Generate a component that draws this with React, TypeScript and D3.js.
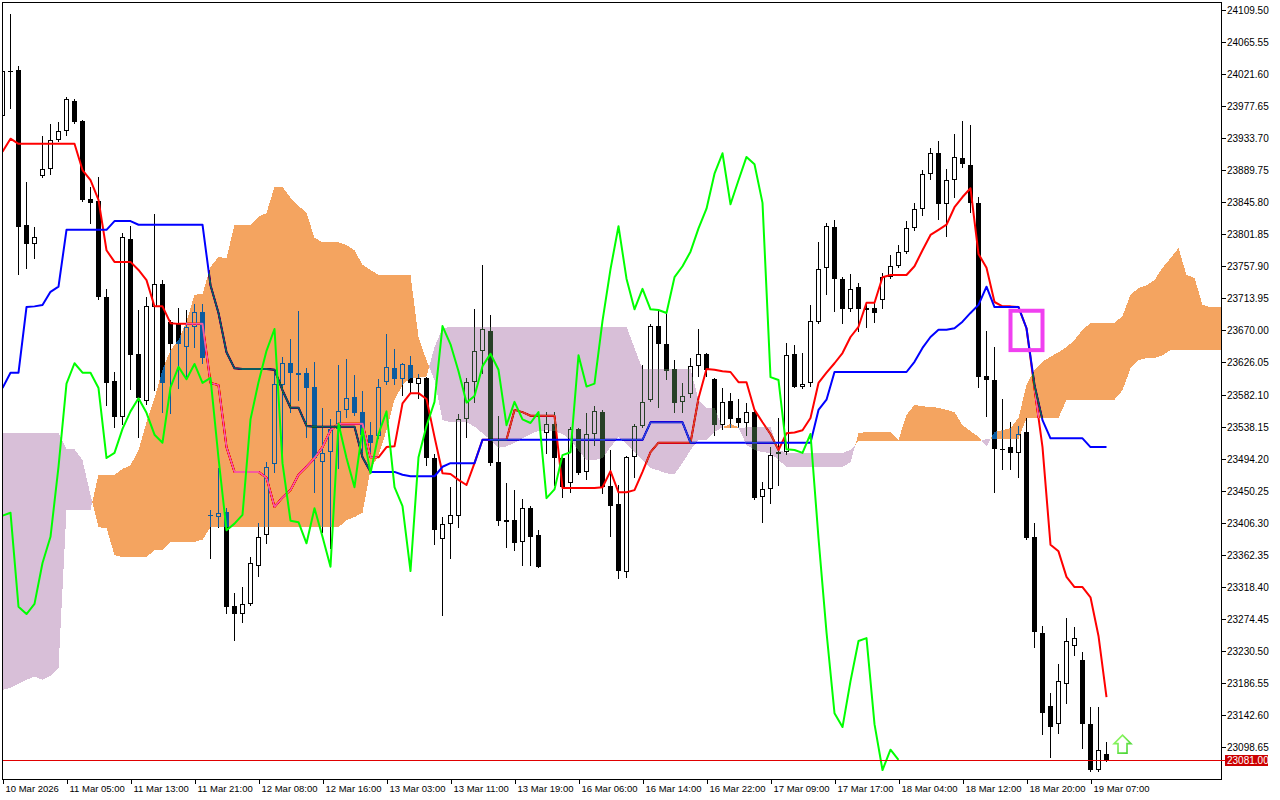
import React from "react";
import * as d3 from "d3";

// ---- Candle data (H1 bars, left to right) ----
const open = [
  23964, 24026, 24027, 23815, 23789, 23882, 23891, 23931, 23944, 23985,
  23957, 23850, 23848, 23716, 23601, 23551, 23795, 23638, 23573, 23702,
  23734, 23682, 23680, 23647, 23675, 23695, 23417, 23414, 23421, 23292,
  23281, 23295, 23347, 23389, 23487, 23595, 23625, 23609, 23612, 23592,
  23490, 23503, 23535, 23561, 23579, 23558, 23527, 23525, 23599, 23618,
  23603, 23622, 23597, 23605, 23495, 23384, 23405, 23415, 23548, 23599,
  23642, 23669, 23490, 23410, 23410, 23380, 23426, 23389, 23529, 23542,
  23495, 23461, 23535, 23476, 23528, 23558, 23457, 23432, 23339, 23496,
  23539, 23575, 23676, 23651, 23617, 23572, 23583, 23621, 23638, 23603,
  23540, 23573, 23550, 23543, 23558, 23441, 23452, 23501, 23503, 23638,
  23592, 23598, 23682, 23756, 23812, 23741, 23699, 23730, 23701, 23701,
  23712, 23743, 23758, 23778, 23810, 23837, 23885, 23913, 23843, 23876,
  23906, 23897, 23845, 23607, 23602, 23507, 23510, 23502, 23531, 23387,
  23255, 23155, 23130, 23185, 23237, 23218, 23130, 23067, 23089,
];
const high = [
  24030, 24104, 24033, 23874, 23812, 23937, 23953, 23956, 23990, 23987,
  23959, 23867, 23880, 23727, 23613, 23804, 23813, 23698, 23716, 23830,
  23739, 23684, 23701, 23698, 23706, 23706, 23424, 23481, 23426, 23310,
  23318, 23359, 23406, 23490, 23612, 23634, 23658, 23697, 23618, 23627,
  23564, 23548, 23622, 23631, 23609, 23587, 23544, 23603, 23665, 23645,
  23625, 23635, 23610, 23606, 23501, 23414, 23455, 23555, 23605, 23699,
  23760, 23691, 23553, 23461, 23451, 23439, 23429, 23396, 23558, 23558,
  23496, 23538, 23536, 23557, 23566, 23561, 23506, 23458, 23498, 23542,
  23622, 23679, 23698, 23694, 23629, 23598, 23632, 23672, 23639, 23605,
  23591, 23584, 23576, 23570, 23564, 23462, 23510, 23550, 23653, 23650,
  23639, 23705, 23791, 23817, 23821, 23743, 23747, 23735, 23709, 23708,
  23749, 23773, 23787, 23820, 23845, 23890, 23920, 23930, 23891, 23939,
  23957, 23952, 23853, 23669, 23647, 23576, 23544, 23539, 23550, 23406,
  23265, 23173, 23212, 23276, 23263, 23229, 23154, 23154, 23105,
];
const low = [
  23959, 23975, 23747, 23756, 23769, 23880, 23885, 23930, 23938, 23954,
  23847, 23817, 23713, 23568, 23538, 23542, 23590, 23524, 23569, 23588,
  23558, 23557, 23591, 23605, 23647, 23625, 23358, 23400, 23282, 23245,
  23270, 23293, 23333, 23378, 23476, 23498, 23558, 23575, 23524, 23448,
  23394, 23372, 23481, 23551, 23554, 23503, 23503, 23523, 23597, 23597,
  23581, 23584, 23577, 23485, 23377, 23280, 23358, 23400, 23524, 23572,
  23612, 23485, 23403, 23373, 23369, 23348, 23348, 23345, 23502, 23458,
  23441, 23448, 23473, 23466, 23513, 23447, 23388, 23330, 23332, 23469,
  23538, 23573, 23565, 23603, 23558, 23558, 23579, 23607, 23607, 23527,
  23535, 23538, 23538, 23527, 23439, 23407, 23433, 23458, 23501, 23592,
  23591, 23594, 23680, 23720, 23697, 23680, 23697, 23669, 23675, 23682,
  23701, 23742, 23757, 23776, 23808, 23828, 23878, 23823, 23800, 23853,
  23894, 23832, 23592, 23553, 23448, 23480, 23480, 23469, 23384, 23236,
  23116, 23085, 23118, 23159, 23225, 23097, 23066, 23066, 23079,
];
const close = [
  24026, 24025, 23812, 23789, 23798, 23891, 23931, 23944, 23987, 23956,
  23849, 23845, 23716, 23598, 23551, 23798, 23636, 23577, 23703, 23734,
  23598, 23651, 23651, 23675, 23695, 23632, 23416, 23420, 23291, 23281,
  23295, 23351, 23387, 23483, 23597, 23625, 23612, 23612, 23591, 23495,
  23502, 23535, 23559, 23577, 23557, 23527, 23516, 23592, 23620, 23603,
  23624, 23598, 23605, 23495, 23396, 23405, 23417, 23548, 23599, 23642,
  23672, 23488, 23409, 23407, 23378, 23426, 23387, 23346, 23542, 23495,
  23455, 23535, 23474, 23528, 23559, 23455, 23429, 23340, 23496, 23539,
  23572, 23676, 23651, 23614, 23571, 23580, 23621, 23638, 23616, 23540,
  23572, 23548, 23543, 23558, 23440, 23452, 23499, 23503, 23636, 23593,
  23597, 23683, 23754, 23813, 23741, 23699, 23727, 23699, 23698, 23694,
  23743, 23758, 23778, 23810, 23837, 23885, 23913, 23843, 23876, 23908,
  23898, 23845, 23606, 23602, 23507, 23506, 23502, 23528, 23385, 23256,
  23145, 23126, 23189, 23244, 23248, 23130, 23067, 23095, 23081,
];

// ---- Ichimoku lines ----
const tenkan = [
  23915, 23933, 23926, 23926, 23926, 23926, 23926, 23926, 23926, 23926,
  23890, 23876, 23849, 23780, 23764, 23764, 23764, 23753, 23739, 23703,
  23703, 23680, 23679, 23679, 23679, 23679, 23598, 23595, 23510, 23476,
  23476, 23476, 23476, 23468, 23428, 23441, 23451, 23472, 23483, 23495,
  23510, 23533, 23542, 23542, 23542, 23542, 23496, 23496, 23510, 23511,
  23570, 23584, 23584, 23576, 23524, 23474, 23473, 23465, 23458, 23488,
  23520, 23520, 23520, 23520, 23561, 23558, 23553, 23553, 23553, 23553,
  23454, 23454, 23454, 23454, 23454, 23455, 23477, 23448, 23448, 23451,
  23476, 23503, 23516, 23516, 23516, 23516, 23516, 23577, 23617, 23616,
  23614, 23613, 23599, 23599, 23561, 23544, 23528, 23506, 23529, 23530,
  23533, 23550, 23598, 23612, 23625, 23639, 23661, 23675, 23708, 23708,
  23743, 23746, 23746, 23746, 23758, 23780, 23801, 23808, 23815, 23839,
  23853, 23865, 23775, 23756, 23709, 23703, 23703, 23702, 23673, 23591,
  23510, 23376, 23367, 23332, 23318, 23318, 23304, 23251, 23167,
];
const kijun = [
  23591, 23612, 23612, 23702, 23703, 23705, 23723, 23730, 23808, 23808,
  23808, 23808, 23808, 23808, 23820, 23820, 23820, 23815, 23815, 23815,
  23815, 23815, 23815, 23815, 23815, 23815, 23732, 23694, 23640, 23618,
  23617, 23617, 23617, 23617, 23616, 23588, 23564, 23564, 23539, 23538,
  23538, 23538, 23538, 23538, 23538, 23496, 23476, 23476, 23476, 23476,
  23472, 23470, 23470, 23470, 23470, 23483, 23488, 23488, 23488, 23488,
  23520, 23520, 23520, 23520, 23520, 23520, 23520, 23520, 23520, 23520,
  23520, 23520, 23520, 23520, 23520, 23520, 23520, 23520, 23520, 23520,
  23520, 23544, 23544, 23544, 23544, 23544, 23516, 23516, 23516, 23516,
  23516, 23516, 23516, 23516, 23516, 23516, 23516, 23516, 23516, 23516,
  23516, 23516, 23561, 23575, 23613, 23613, 23613, 23613, 23613, 23613,
  23613, 23613, 23613, 23613, 23627, 23646, 23661, 23671, 23671, 23673,
  23682, 23694, 23705, 23730, 23702, 23702, 23702, 23702, 23673, 23595,
  23547, 23522, 23522, 23522, 23522, 23522, 23510, 23510, 23510,
];
// Senkou spans, already shifted 26 bars forward (runs past the last candle)
const spanA = [
  23177, 23180, 23185, 23191, 23195, 23191, 23196, 23207, 23424, 23424,
  23424, 23424, 23472, 23472, 23472, 23480, 23485, 23506, 23544, 23577,
  23616, 23643, 23657, 23682, 23719, 23720, 23757, 23771, 23769, 23815,
  23815, 23815, 23826, 23831, 23867, 23867, 23852, 23841, 23831, 23797,
  23791, 23791, 23791, 23787, 23780, 23760, 23753, 23746, 23746, 23746,
  23746, 23746, 23661, 23629, 23602, 23547, 23544, 23544, 23544, 23538,
  23529, 23520, 23509, 23511, 23516, 23522, 23528, 23532, 23533, 23532,
  23528, 23520, 23505, 23492, 23492, 23495, 23510, 23524, 23514, 23503,
  23492, 23481, 23478, 23474, 23473, 23488, 23506, 23520, 23520, 23531,
  23537, 23542, 23537, 23513, 23506, 23503, 23502, 23492, 23483, 23483,
  23483, 23483, 23483, 23483, 23483, 23483, 23489, 23529, 23531, 23531,
  23531, 23531, 23520, 23554, 23568, 23566, 23565, 23564, 23561, 23558,
  23540, 23532, 23524, 23511, 23531, 23533, 23536, 23550, 23595, 23616,
  23627, 23634, 23640, 23647, 23657, 23671, 23680, 23680, 23680, 23680,
  23690, 23719, 23728, 23732, 23739, 23756, 23769, 23783, 23746, 23742,
  23705, 23702, 23702, 23702,
];
const spanB = [
  23529, 23529, 23529, 23529, 23529, 23529, 23529, 23529, 23507, 23507,
  23492, 23444, 23400, 23399, 23362, 23359, 23359, 23359, 23359, 23369,
  23369, 23380, 23380, 23380, 23380, 23383, 23400, 23400, 23400, 23400,
  23400, 23400, 23400, 23400, 23400, 23400, 23400, 23400, 23400, 23400,
  23400, 23400, 23400, 23410, 23414, 23420, 23479, 23499, 23533, 23575,
  23595, 23605, 23605, 23607, 23647, 23673, 23675, 23675, 23675, 23675,
  23675, 23675, 23675, 23675, 23675, 23675, 23675, 23675, 23675, 23675,
  23675, 23675, 23675, 23675, 23675, 23675, 23675, 23675, 23675, 23646,
  23617, 23617, 23617, 23617, 23617, 23617, 23617, 23575, 23564, 23564,
  23537, 23536, 23536, 23537, 23537, 23537, 23537, 23506, 23502, 23502,
  23502, 23502, 23502, 23502, 23502, 23502, 23506, 23518, 23518, 23518,
  23518, 23518, 23518, 23518, 23518, 23518, 23518, 23518, 23518, 23518,
  23518, 23518, 23518, 23521, 23521, 23521, 23521, 23521, 23550, 23550,
  23550, 23550, 23550, 23575, 23575, 23575, 23575, 23575, 23575, 23575,
  23588, 23618, 23629, 23632, 23632, 23636, 23643, 23643, 23643, 23643,
  23643, 23643, 23643, 23643,
];
const chikouShift = 26;

// ---- Axis labels ----
const priceTickLabels = [
  "24109.50", "24065.55", "24021.60", "23977.65", "23933.70", "23889.75",
  "23845.80", "23801.85", "23757.90", "23713.95", "23670.00", "23626.05",
  "23582.10", "23538.15", "23494.20", "23450.25", "23406.30", "23362.35",
  "23318.40", "23274.45", "23230.50", "23186.55", "23142.60", "23098.65",
];
const timeLabels = [
  "10 Mar 2026", "11 Mar 05:00", "11 Mar 13:00", "11 Mar 21:00", "12 Mar 08:00",
  "12 Mar 16:00", "13 Mar 03:00", "13 Mar 11:00", "13 Mar 19:00", "16 Mar 06:00",
  "16 Mar 14:00", "16 Mar 22:00", "17 Mar 09:00", "17 Mar 17:00", "18 Mar 04:00",
  "18 Mar 12:00", "18 Mar 20:00", "19 Mar 07:00",
];
const timeLabelBars = [0, 8, 16, 24, 32, 40, 48, 56, 64, 72, 80, 88, 96, 104, 112, 120, 128, 136];

// ---- Objects on the chart ----
const bidPrice = 23081.0;
const boxBars = [126, 130];
const boxPrices = [23697, 23643];
const arrowBar = 140;
const arrowPrice = 23115;

const FONT = "'Liberation Sans', Arial, sans-serif";

export default function App() {
  const W = 1280;
  const H = 800;
  const left = 2, right = 1221, top = 2, bottom = 779;

  const x = d3.scaleLinear().domain([0, 1]).range([2.5, 10.5]);
  const y = d3.scaleLinear().domain([23054.76, 24120.47]).range([bottom, top]);

  const lineGen = d3
    .line<[number, number]>()
    .x((d) => x(d[0]))
    .y((d) => y(d[1]));

  const tenkanPath = lineGen(tenkan.map((v, i) => [i, v]));
  const kijunPath = lineGen(kijun.map((v, i) => [i, v]));
  const chikouPath = lineGen(
    close.slice(chikouShift).map((v, i) => [i, v] as [number, number])
  );

  // Cloud polygons (orange where span A above span B, thistle otherwise)
  let orange = "";
  let thistle = "";
  const poly = (pts: number[][]) =>
    "M" + pts.map((p) => `${p[0].toFixed(2)},${p[1].toFixed(2)}`).join("L") + "Z";
  for (let i = 0; i < spanA.length - 1; i++) {
    const a0 = spanA[i], b0 = spanB[i], a1 = spanA[i + 1], b1 = spanB[i + 1];
    const d0 = a0 - b0, d1 = a1 - b1;
    const x0 = x(i), x1 = x(i + 1);
    if ((d0 >= 0 && d1 >= 0) || (d0 <= 0 && d1 <= 0)) {
      const p = poly([[x0, y(a0)], [x1, y(a1)], [x1, y(b1)], [x0, y(b0)]]);
      if (d0 + d1 >= 0) orange += p;
      else thistle += p;
    } else {
      const t = d0 / (d0 - d1);
      const xc = x0 + t * (x1 - x0);
      const yc = y(a0 + t * (a1 - a0));
      const p1 = poly([[x0, y(a0)], [xc, yc], [x0, y(b0)]]);
      const p2 = poly([[xc, yc], [x1, y(a1)], [x1, y(b1)]]);
      if (d0 > 0) { orange += p1; thistle += p2; } else { thistle += p1; orange += p2; }
    }
  }

  const candles = open.map((o, i) => {
    const c = close[i];
    const cx = x(i);
    const bx = cx - 2.5;
    const yTop = Math.round(y(Math.max(o, c)));
    const yBot = Math.round(y(Math.min(o, c)));
    const yHi = Math.round(y(high[i]));
    const yLo = Math.round(y(low[i]));
    const bull = c > o;
    const h = Math.max(1, yBot - yTop);
    return (
      <g key={i}>
        <line x1={cx} x2={cx} y1={yHi} y2={yLo + 1} stroke="#000" strokeWidth={1} />
        {c === o ? (
          <line x1={bx} x2={bx + 5} y1={yTop + 0.5} y2={yTop + 0.5} stroke="#000" />
        ) : bull ? (
          <rect x={bx + 0.5} y={yTop + 0.5} width={4} height={Math.max(1, h - 1)} fill="#fff" stroke="#000" strokeWidth={1} />
        ) : (
          <rect x={bx} y={yTop} width={5} height={h} fill="#000" />
        )}
      </g>
    );
  });

  const bidY = Math.round(y(bidPrice)) + 0.5;
  const ax = x(arrowBar);
  const ay = y(arrowPrice);

  return (
    <svg
      width={W}
      height={H}
      style={{ position: "absolute", left: 0, top: 0, background: "#fff" }}
      fontFamily={FONT}
    >
      <rect x={0} y={0} width={W} height={H} fill="#fff" />
      <defs>
        <clipPath id="plot">
          <rect x={left + 1} y={top + 1} width={right - left - 1} height={bottom - top - 1} />
        </clipPath>
        <linearGradient id="arrowStroke" x1="0" y1="0" x2="1" y2="1">
          <stop offset="0" stopColor="#9cff6a" />
          <stop offset="1" stopColor="#3fcf2f" />
        </linearGradient>
      </defs>
      <g clipPath="url(#plot)">
        <rect x={0} y={0} width={W} height={H} fill="#fff" />
        <g shapeRendering="crispEdges">{candles}</g>
        <path d={tenkanPath || ""} fill="none" stroke="#ff0000" strokeWidth={2} strokeLinejoin="round" />
        <path d={kijunPath || ""} fill="none" stroke="#0000ff" strokeWidth={2} strokeLinejoin="round" />
        <g style={{ mixBlendMode: "difference" }}>
          <path d={orange} fill="#0b5b9f" shapeRendering="crispEdges" />
          <path d={thistle} fill="#274027" shapeRendering="crispEdges" />
        </g>
        <path d={chikouPath || ""} fill="none" stroke="#00ff00" strokeWidth={2} strokeLinejoin="round" />
        <line x1={left} x2={right} y1={bidY} y2={bidY} stroke="#e00000" strokeWidth={1} shapeRendering="crispEdges" />
        <rect
          x={x(boxBars[0])}
          y={y(boxPrices[0])}
          width={x(boxBars[1]) - x(boxBars[0])}
          height={y(boxPrices[1]) - y(boxPrices[0])}
          fill="none"
          stroke="#f040f0"
          strokeWidth={4}
        />
        <path
          d={`M${ax},${ay} L${ax + 8.5},${ay + 8.5} L${ax + 4.5},${ay + 8.5} L${ax + 4.5},${ay + 18} L${ax - 4.5},${ay + 18} L${ax - 4.5},${ay + 8.5} L${ax - 8.5},${ay + 8.5} Z`}
          fill="#fff"
          stroke="url(#arrowStroke)"
          strokeWidth={1.6}
        />
      </g>

      {/* frame */}
      <rect x={left + 0.5} y={top + 0.5} width={right - left} height={bottom - top} fill="none" stroke="#000" strokeWidth={1} shapeRendering="crispEdges" />

      {/* price axis */}
      {priceTickLabels.map((lab) => {
        const ty = Math.round(y(parseFloat(lab))) + 0.5;
        return (
          <g key={lab}>
            <line x1={right} x2={right + 5} y1={ty} y2={ty} stroke="#000" shapeRendering="crispEdges" />
            <text x={right + 6} y={ty + 3.5} fontSize={10} fill="#000">{lab}</text>
          </g>
        );
      })}
      <line x1={right} x2={right + 5} y1={bidY} y2={bidY} stroke="#e00000" shapeRendering="crispEdges" />
      <rect x={right + 4} y={bidY - 5.5} width={43} height={11} fill="#cc0000" shapeRendering="crispEdges" />
      <text x={right + 6} y={bidY + 3.5} fontSize={10} fill="#fff">{bidPrice.toFixed(2)}</text>

      {/* time axis */}
      {timeLabels.map((lab, k) => {
        const tx = Math.round(x(timeLabelBars[k])) + 0.5;
        return (
          <g key={lab}>
            <line x1={tx} x2={tx} y1={bottom} y2={bottom + 5} stroke="#000" shapeRendering="crispEdges" />
            <text x={tx + 2} y={bottom + 13} fontSize={9.5} fill="#000">{lab}</text>
          </g>
        );
      })}
    </svg>
  );
}
